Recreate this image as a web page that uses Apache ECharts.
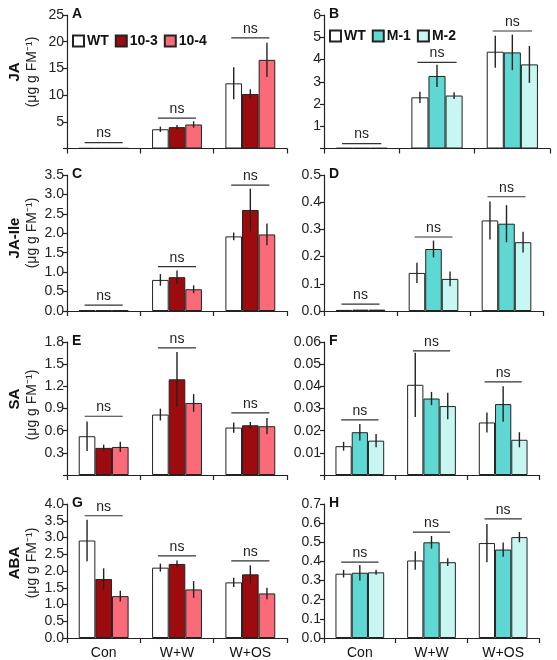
<!DOCTYPE html>
<html>
<head>
<meta charset="utf-8">
<script src="https://cdn.jsdelivr.net/npm/echarts@6/dist/echarts.min.js"></script>
<style>html,body{margin:0;padding:0;background:#fff}#c{width:557px;height:660px}</style>
</head>
<body>
<div id="c"></div>
<script>
// ---------- data ----------
const categories = ['Con', 'W+W', 'W+OS'];
const namesLeft = ['WT', '10-3', '10-4'];
const namesRight = ['WT', 'M-1', 'M-2'];

// A: JA (left lines)
const A_WT = [0.05, 3.6, 12.2],   A_WT_err = [0, 0.5, 3.0];
const A_103 = [0.05, 4.0, 10.2],  A_103_err = [0, 0.4, 0.9];
const A_104 = [0.05, 4.5, 16.6],  A_104_err = [0, 0.6, 3.2];
const A_ns = [1.1, 5.7, 20.7];
const A_ticks = ['', '5', '10', '15', '20', '25'];
// B: JA (right lines)
const B_WT = [0.02, 2.3, 4.35],   B_WT_err = [0, 0.25, 0.72];
const B_M1 = [0.02, 3.26, 4.32],  B_M1_err = [0, 0.5, 0.8];
const B_M2 = [0.02, 2.38, 3.78],  B_M2_err = [0, 0.15, 0.83];
const B_ns = [0.22, 3.87, 5.28];
const B_ticks = ['', '1', '2', '3', '4', '5', '6'];
// C: JA-Ile (left)
const C_WT = [0.02, 0.8, 1.92],   C_WT_err = [0, 0.15, 0.1];
const C_103 = [0.02, 0.87, 2.6],  C_103_err = [0, 0.17, 0.55];
const C_104 = [0.02, 0.56, 1.97], C_104_err = [0, 0.1, 0.28];
const C_ns = [0.15, 1.14, 3.24];
const C_ticks = ['0.0', '0.5', '1.0', '1.5', '2.0', '2.5', '3.0', '3.5'];
// D: JA-Ile (right)
const D_WT = [0.004, 0.14, 0.333], D_WT_err = [0, 0.037, 0.07];
const D_M1 = [0.005, 0.228, 0.321], D_M1_err = [0, 0.031, 0.068];
const D_M2 = [0.005, 0.118, 0.253], D_M2_err = [0, 0.027, 0.038];
const D_ns = [0.025, 0.272, 0.42];
const D_ticks = ['0.0', '0.1', '0.2', '0.3', '0.4', '0.5'];
// E: SA (left)
const E_WT = [0.525, 0.818, 0.642], E_WT_err = [0.2, 0.08, 0.07];
const E_103 = [0.367, 1.295, 0.673], E_103_err = [0.045, 0.37, 0.045];
const E_104 = [0.38, 0.975, 0.66],  E_104_err = [0.07, 0.12, 0.11];
const E_ns = [0.795, 1.72, 0.84];
const E_ticks = ['', '0.3', '0.6', '0.9', '1.2', '1.5', '1.8'];
// F: SA (right)
const F_WT = [0.013, 0.0407, 0.0237], F_WT_err = [0.002, 0.0145, 0.0045];
const F_M1 = [0.0193, 0.0345, 0.032], F_M1_err = [0.0037, 0.003, 0.008];
const F_M2 = [0.0155, 0.0311, 0.0159], F_M2_err = [0.003, 0.006, 0.0034];
const F_ns = [0.0249, 0.056, 0.042];
const F_ticks = ['', '0.01', '0.02', '0.03', '0.04', '0.05', '0.06'];
// G: ABA (left)
const G_WT = [2.91, 2.1, 1.66],  G_WT_err = [0.62, 0.12, 0.14];
const G_103 = [1.76, 2.21, 1.9], G_103_err = [0.32, 0.1, 0.27];
const G_104 = [1.25, 1.45, 1.33], G_104_err = [0.16, 0.25, 0.17];
const G_ns = [3.65, 2.45, 2.3];
const G_ticks = ['0.0', '0.5', '1.0', '1.5', '2.0', '2.5', '3.0', '3.5', '4.0'];
// H: ABA (right)
const H_WT = [0.336, 0.405, 0.496], H_WT_err = [0.02, 0.048, 0.1];
const H_M1 = [0.341, 0.5, 0.462],  H_M1_err = [0.04, 0.033, 0.037];
const H_M2 = [0.343, 0.396, 0.527], H_M2_err = [0.013, 0.02, 0.027];
const H_ns = [0.396, 0.553, 0.622];
const H_ticks = ['0.0', '0.1', '0.2', '0.3', '0.4', '0.5', '0.6', '0.7'];

const yNames = [['JA', '(\u03bcg g FM\u207b\u00b9)'], ['JA-Ile', '(\u03bcg g FM\u207b\u00b9)'], ['SA', '(\u03bcg g FM\u207b\u00b9)'], ['ABA', '(\u03bcg g FM\u207b\u00b9)']];

// ---------- styling / layout ----------
const FONT = '"Liberation Sans", Arial, sans-serif';
const colorsLeft = ['#ffffff', '#9e0b0f', '#f96b78'];
const colorsRight = ['#ffffff', '#5fd8d3', '#c8f6f1'];
const GAP = 0.32;

const panels = [
  {L:'A', side:0, top:15, h:133.5, left:67, w:220, max:25, iv:5, ticks:A_ticks, vals:[A_WT,A_103,A_104], errs:[A_WT_err,A_103_err,A_104_err], ns:A_ns},
  {L:'B', side:1, top:15, h:133.5, left:324, w:226, max:6, iv:1, ticks:B_ticks, vals:[B_WT,B_M1,B_M2], errs:[B_WT_err,B_M1_err,B_M2_err], ns:B_ns},
  {L:'C', side:0, top:175, h:136, left:67, w:220, max:3.5, iv:0.5, ticks:C_ticks, vals:[C_WT,C_103,C_104], errs:[C_WT_err,C_103_err,C_104_err], ns:C_ns},
  {L:'D', side:1, top:175, h:136, left:324, w:219, max:0.5, iv:0.1, ticks:D_ticks, vals:[D_WT,D_M1,D_M2], errs:[D_WT_err,D_M1_err,D_M2_err], ns:D_ns},
  {L:'E', side:0, top:342, h:133, left:67, w:220, max:1.8, iv:0.3, ticks:E_ticks, vals:[E_WT,E_103,E_104], errs:[E_WT_err,E_103_err,E_104_err], ns:E_ns},
  {L:'F', side:1, top:342, h:133, left:324, w:215, max:0.06, iv:0.01, ticks:F_ticks, vals:[F_WT,F_M1,F_M2], errs:[F_WT_err,F_M1_err,F_M2_err], ns:F_ns},
  {L:'G', side:0, top:504, h:134, left:67, w:220, max:4, iv:0.5, ticks:G_ticks, vals:[G_WT,G_103,G_104], errs:[G_WT_err,G_103_err,G_104_err], ns:G_ns},
  {L:'H', side:1, top:504, h:134, left:324, w:215, max:0.7, iv:0.1, ticks:H_ticks, vals:[H_WT,H_M1,H_M2], errs:[H_WT_err,H_M1_err,H_M2_err], ns:H_ns}
];

const grid = [], xAxis = [], yAxis = [], series = [], graphic = [];
panels.forEach((p, k) => {
  grid.push({left: p.left, top: p.top, width: p.w, height: p.h, containLabel: false});
  const bottomRow = k >= 6;
  xAxis.push({
    type: 'category', gridIndex: k, data: categories,
    axisLine: {lineStyle: {color: '#222', width: 1.2}},
    axisTick: {show: true, length: 5, lineStyle: {color: '#222', width: 1.2}},
    axisLabel: {show: bottomRow, color: '#111', fontSize: 14, fontFamily: FONT, margin: 8}
  });
  yAxis.push({
    type: 'value', gridIndex: k, min: 0, max: p.max, interval: p.iv,
    axisLine: {show: true, lineStyle: {color: '#222', width: 1.2}},
    axisTick: {show: true, length: 4, lineStyle: {color: '#222', width: 1.2}},
    splitLine: {show: false},
    axisLabel: {color: '#222', fontSize: 14, fontFamily: FONT, margin: 3,
      formatter: ((ticks) => (v, i) => ticks[i] !== undefined ? ticks[i] : '')(p.ticks)}
  });
  const names = p.side === 0 ? namesLeft : namesRight;
  const cols = p.side === 0 ? colorsLeft : colorsRight;
  for (let j = 0; j < 3; j++) {
    series.push({
      type: 'bar', name: names[j], xAxisIndex: k, yAxisIndex: k,
      data: p.vals[j], barGap: '0%', barCategoryGap: (GAP * 100) + '%',
      itemStyle: {color: cols[j], borderColor: '#222', borderWidth: 1},
      emphasis: {disabled: true}, animation: false
    });
  }
  // error bars
  const errData = [];
  for (let j = 0; j < 3; j++) for (let c = 0; c < 3; c++) {
    if (p.errs[j][c] > 0) errData.push([c, p.vals[j][c], p.errs[j][c], j]);
  }
  series.push({
    type: 'custom', xAxisIndex: k, yAxisIndex: k, data: errData, z: 5, clip: false, animation: false,
    renderItem: (params, api) => {
      const cw = api.size([1, 0])[0];
      const bw = cw * (1 - GAP) / 3;
      const cx = api.coord([api.value(0), 0])[0] + (api.value(3) - 1) * bw;
      const m = api.value(1), e = api.value(2);
      const y1 = api.coord([api.value(0), m + e])[1];
      const y2 = api.coord([api.value(0), Math.max(0, m - e)])[1];
      return {type: 'line', shape: {x1: cx, y1: y1, x2: cx, y2: y2}, style: {stroke: '#222', lineWidth: 1.4}};
    }
  });
  // ns annotations
  series.push({
    type: 'custom', xAxisIndex: k, yAxisIndex: k, data: p.ns.map((v, c) => [c, v]), z: 6, clip: false, animation: false,
    renderItem: (params, api) => {
      const cw = api.size([1, 0])[0];
      const pt = api.coord([api.value(0), api.value(1)]);
      const half = cw * 0.26;
      return {type: 'group', children: [
        {type: 'line', shape: {x1: pt[0] - half, y1: pt[1], x2: pt[0] + half, y2: pt[1]}, style: {stroke: '#333', lineWidth: 1.2}},
        {type: 'text', x: pt[0], y: pt[1] - 2, style: {text: 'ns', fill: '#222', font: '14px ' + FONT, textAlign: 'center', textVerticalAlign: 'bottom'}}
      ]};
    }
  });
  // panel letter
  graphic.push({type: 'text', left: p.left + 5, top: p.top - 8,
    style: {text: p.L, fill: '#111', font: 'bold 14px ' + FONT}});
});

// left y-axis titles
const titleCenters = [72, 233, 405, 563];
const boldCenters = [72, 238, 399, 563];
yNames.forEach((n, r) => {
  graphic.push({type: 'text', x: 15, y: boldCenters[r], rotation: Math.PI / 2,
    style: {text: n[0], fill: '#111', font: 'bold 15px ' + FONT, textAlign: 'center', textVerticalAlign: 'middle'}});
  graphic.push({type: 'text', x: 32, y: titleCenters[r], rotation: Math.PI / 2,
    style: {text: n[1], fill: '#222', font: '14px ' + FONT, textAlign: 'center', textVerticalAlign: 'middle'}});
});

const legendCommon = {
  orient: 'horizontal', itemWidth: 11, itemHeight: 11, itemGap: 6, selectedMode: false,
  icon: 'rect', padding: 0,
  textStyle: {fontFamily: FONT, fontSize: 14, fontWeight: 'bold', color: '#111', padding: [0, 0, 0, -2]}
};
const option = {
  backgroundColor: '#fff',
  animation: false,
  grid, xAxis, yAxis, series, graphic,
  legend: [
    Object.assign({}, legendCommon, {left: 72, top: 34, data: namesLeft}),
    Object.assign({}, legendCommon, {left: 329, top: 29, data: namesRight})
  ]
};
const chart = echarts.init(document.getElementById('c'), null, {renderer: 'canvas'});
chart.setOption(option);
</script>
</body>
</html>
